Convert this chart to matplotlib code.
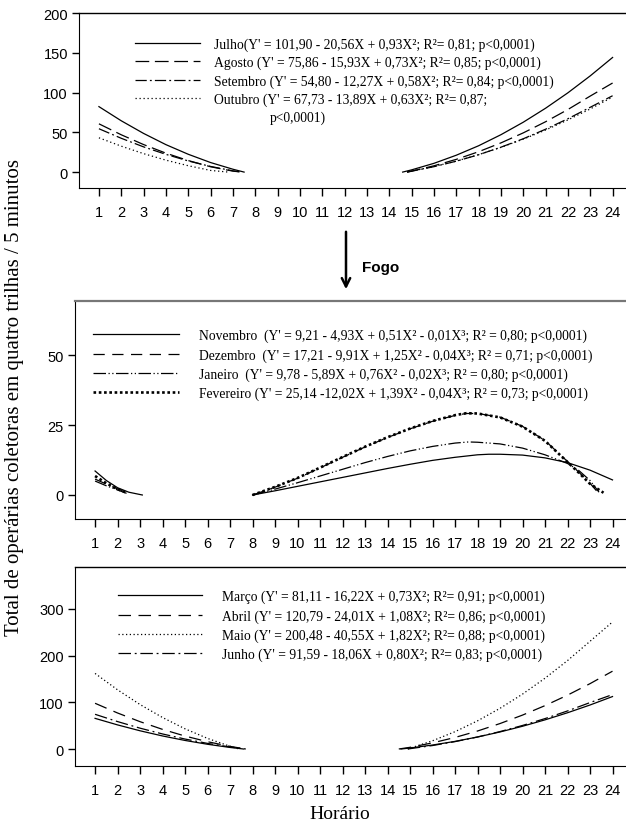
import matplotlib.pyplot as plt

plt.rcParams['font.family'] = 'Liberation Sans'

horas = list(range(1, 25))

# ---- painel de cima: julho a outubro (manha / tarde) ----
x_jul_m = [1, 2, 3, 4, 5, 6, 7, 7.5]
julho_m = [82.3, 64.5, 48.6, 34.5, 22.4, 12.0, 3.6, 0]
x_jul_t = [14.6, 15, 16, 17, 18, 19, 20, 21, 22, 23, 24]
julho_t = [0, 2.8, 11.0, 21.2, 33.1, 47.0, 62.7, 80.3, 99.7, 121.0, 144.1]

x_ago_m = [1, 2, 3, 4, 5, 6, 7, 7.4]
agosto_m = [60.7, 46.9, 34.6, 23.8, 14.5, 6.7, 1.2, 0]
x_ago_t = [14.8, 15, 16, 17, 18, 19, 20, 21, 22, 23, 24]
agosto_t = [0, 1.2, 7.9, 16.0, 25.6, 36.7, 49.3, 63.3, 78.7, 95.6, 112.0]

x_set_m = [1, 2, 3, 4, 5, 6, 7, 7.4]
setembro_m = [54.5, 42.5, 31.7, 22.3, 14.0, 7.1, 1.6, 0]
x_set_t = [14.8, 15, 16, 17, 18, 19, 20, 21, 22, 23, 24]
setembro_t = [0, 1.1, 6.8, 13.7, 21.8, 31.3, 41.9, 53.9, 67.1, 81.5, 96.0]

x_out_m = [1, 2, 3, 4, 5, 6, 6.8]
outubro_m = [43.1, 32.6, 23.2, 15.0, 8.0, 2.1, 0]
x_out_t = [14.8, 15, 16, 17, 18, 19, 20, 21, 22, 23, 24]
outubro_t = [0, 1.2, 7.0, 13.8, 21.9, 31.1, 41.4, 52.9, 65.6, 79.4, 94.4]

# ---- painel do meio: novembro a fevereiro ----
x_nov_m = [1, 1.5, 2, 2.5, 3.1]
novembro_m = [8.6, 5.2, 2.6, 1.0, 0]
x_nov_t = [8, 9, 10, 11, 12, 13, 14, 15, 16, 17, 18, 18.5, 19, 20, 21, 22, 23, 24]
novembro_t = [0, 1.5, 3.1, 4.7, 6.3, 7.9, 9.5, 11.0, 12.4, 13.5, 14.4, 14.6, 14.6, 14.3,
              13.3, 11.6, 8.9, 5.4]

x_dez_m = [1, 1.5, 2, 2.4]
dezembro_m = [5.7, 3.9, 2.2, 1.0]
x_dez_t = [8, 9, 10, 11, 12, 13, 14, 15, 16, 17, 17.5, 18, 19, 20, 21, 22, 22.5, 23, 23.3]
dezembro_t = [0, 2.8, 6.0, 9.7, 13.5, 17.2, 20.6, 23.7, 26.4, 28.5, 29.2, 29.2, 27.9, 24.6,
              19.5, 12.0, 8.2, 4.2, 1.4]

x_jan_m = [1, 1.5, 2, 2.4]
janeiro_m = [5.0, 3.3, 1.8, 0.6]
x_jan_t = [8, 9, 10, 11, 12, 13, 14, 15, 16, 17, 17.6, 18, 19, 20, 21, 22, 22.5, 23, 23.4]
janeiro_t = [0, 2.1, 4.4, 6.8, 9.2, 11.6, 13.8, 15.8, 17.4, 18.6, 19.0, 18.9, 18.3, 16.8,
             14.4, 11.3, 8.8, 5.2, 1.0]

x_fev_m = [1, 1.5, 2, 2.4]
fevereiro_m = [6.8, 4.2, 2.1, 0.8]
x_fev_t = [8, 9, 10, 11, 12, 13, 14, 15, 16, 17, 17.5, 18, 19, 20, 21, 22, 22.5, 23, 23.6]
fevereiro_t = [0, 2.9, 6.1, 9.8, 13.6, 17.3, 20.7, 23.8, 26.5, 28.6, 29.3, 29.2, 27.8, 24.5,
               19.4, 11.8, 8.0, 4.0, 0.8]

# ---- painel de baixo: marco a junho ----
x_mar_m = [1, 2, 3, 4, 5, 6, 7, 7.6]
marco_m = [65.6, 51.6, 39.0, 27.9, 18.3, 10.1, 3.3, 0]
x_mar_t = [14.6, 15, 16, 17, 18, 19, 20, 21, 22, 23, 24]
marco_t = [0, 2.1, 8.5, 16.3, 25.7, 36.5, 48.7, 62.4, 77.6, 94.2, 112.3]

x_abr_m = [1, 2, 3, 4, 5, 6, 7, 7.7]
abril_m = [97.9, 77.1, 58.5, 42.0, 27.7, 15.6, 5.6, 0]
x_abr_t = [14.5, 15, 16, 17, 18, 19, 20, 21, 22, 23, 24]
abril_t = [0, 3.6, 13.1, 24.7, 38.5, 54.5, 72.6, 92.9, 115.3, 139.9, 166.6]

x_mai_m = [1, 2, 3, 4, 5, 6, 7, 7.4]
maio_m = [161.8, 126.7, 95.2, 67.4, 43.2, 22.7, 5.8, 0]
x_mai_t = [14.9, 15, 16, 17, 18, 19, 20, 21, 22, 23, 24]
maio_t = [0, 1.7, 17.6, 37.1, 60.3, 87.1, 117.5, 151.6, 189.3, 230.6, 272.0]

x_jun_m = [1, 2, 3, 4, 5, 6, 7, 7.7]
junho_m = [74.3, 58.7, 44.6, 32.2, 21.3, 12.0, 4.4, 0]
x_jun_t = [14.9, 15, 16, 17, 18, 19, 20, 21, 22, 23, 24]
junho_t = [0, 0.7, 7.4, 15.8, 25.7, 37.3, 50.4, 65.1, 81.5, 99.4, 116.5]

rotulos_topo = [
    "Julho(Y' = 101,90 - 20,56X + 0,93X²; R²= 0,81; p<0,0001)",
    "Agosto (Y' = 75,86 - 15,93X + 0,73X²; R²= 0,85; p<0,0001)",
    "Setembro (Y' = 54,80 - 12,27X + 0,58X²; R²= 0,84; p<0,0001)",
    "Outubro (Y' = 67,73 - 13,89X + 0,63X²; R²= 0,87;",
]
rotulos_meio = [
    "Novembro  (Y' = 9,21 - 4,93X + 0,51X² - 0,01X³; R² = 0,80; p<0,0001)",
    "Dezembro  (Y' = 17,21 - 9,91X + 1,25X² - 0,04X³; R² = 0,71; p<0,0001)",
    "Janeiro  (Y' = 9,78 - 5,89X + 0,76X² - 0,02X³; R² = 0,80; p<0,0001)",
    "Fevereiro (Y' = 25,14 -12,02X + 1,39X² - 0,04X³; R² = 0,73; p<0,0001)",
]
rotulos_baixo = [
    "Março (Y' = 81,11 - 16,22X + 0,73X²; R²= 0,91; p<0,0001)",
    "Abril (Y' = 120,79 - 24,01X + 1,08X²; R²= 0,86; p<0,0001)",
    "Maio (Y' = 200,48 - 40,55X + 1,82X²; R²= 0,88; p<0,0001)",
    "Junho (Y' = 91,59 - 18,06X + 0,80X²; R²= 0,83; p<0,0001)",
]

LW = 0.9
SERIF = 'Liberation Serif'
FS_LEG = 9.8


def curva(ax, xm, ym, xt, yt, label, **kw):
    ln, = ax.plot(xm, ym, color='black', label=label, **kw)
    ax.plot(xt, yt, color='black', **kw)
    return ln


def arruma_eixo(ax, ylim, yticks, cor_topo='black', lw_topo=1.0):
    ax.set_xlim(0.108, 24.6)
    ax.set_ylim(*ylim)
    ax.set_xticks(horas)
    ax.set_xticklabels([str(h) for h in horas])
    ax.set_yticks(yticks)
    ax.spines['right'].set_visible(False)
    ax.spines['top'].set_color(cor_topo)
    ax.spines['top'].set_linewidth(lw_topo)
    ax.tick_params(axis='x', direction='out', length=6, width=1, labelsize=10.5, pad=6)
    ax.tick_params(axis='y', direction='out', length=5, width=1, labelsize=10.5, pad=3)


def legenda(ax, handles, labels, anchor, hlen, hpad, spacing):
    ax.legend(handles, labels, loc='upper left', bbox_to_anchor=anchor, frameon=False,
              prop={'family': SERIF, 'size': FS_LEG}, handlelength=hlen,
              handletextpad=hpad, labelspacing=spacing, borderpad=0, borderaxespad=0)


fig = plt.figure(figsize=(6.26, 8.28), dpi=100)
W, H = 626, 828


def eixo(left, top, bottom):
    return fig.add_axes([left / W, 1 - bottom / H, (W - left) / W, (bottom - top) / H])


# painel de cima
ax1 = eixo(79, 14, 189)
h1 = [
    curva(ax1, x_jul_m, julho_m, x_jul_t, julho_t, rotulos_topo[0], lw=LW),
    curva(ax1, x_ago_m, agosto_m, x_ago_t, agosto_t, rotulos_topo[1], lw=LW,
          dashes=(11, 4.5)),
    curva(ax1, x_set_m, setembro_m, x_set_t, setembro_t, rotulos_topo[2], lw=LW,
          dashes=(9, 2.5, 1.5, 2.5)),
    curva(ax1, x_out_m, outubro_m, x_out_t, outubro_t, rotulos_topo[3], lw=LW,
          dashes=(1, 2.2)),
]
arruma_eixo(ax1, (-20, 200), [0, 50, 100, 150, 200])
legenda(ax1, h1, rotulos_topo, (0.102, 0.86), 4.8, 1.05, 0.36)
ax1.text(0.349, 0.405, "p<0,0001)", transform=ax1.transAxes, family=SERIF, size=FS_LEG,
         va='center')

# painel do meio
ax2 = eixo(75, 302, 520)
h2 = [
    curva(ax2, x_nov_m, novembro_m, x_nov_t, novembro_t, rotulos_meio[0], lw=LW),
    curva(ax2, x_dez_m, dezembro_m, x_dez_t, dezembro_t, rotulos_meio[1], lw=LW,
          dashes=(9, 6)),
    curva(ax2, x_jan_m, janeiro_m, x_jan_t, janeiro_t, rotulos_meio[2], lw=LW,
          dashes=(10, 2, 1, 2, 1, 2)),
    curva(ax2, x_fev_m, fevereiro_m, x_fev_t, fevereiro_t, rotulos_meio[3], lw=1.9,
          dashes=(1, 1)),
]
arruma_eixo(ax2, (-8.6, 69.5), [0, 25, 50], cor_topo='#777777', lw_topo=1.6)
legenda(ax2, h2, rotulos_meio, (0.033, 0.872), 6.3, 1.45, 0.43)

# painel de baixo
ax3 = eixo(75, 568, 767)
h3 = [
    curva(ax3, x_mar_m, marco_m, x_mar_t, marco_t, rotulos_baixo[0], lw=LW),
    curva(ax3, x_abr_m, abril_m, x_abr_t, abril_t, rotulos_baixo[1], lw=LW,
          dashes=(10, 6)),
    curva(ax3, x_mai_m, maio_m, x_mai_t, maio_t, rotulos_baixo[2], lw=LW,
          dashes=(1, 2)),
    curva(ax3, x_jun_m, junho_m, x_jun_t, junho_t, rotulos_baixo[3], lw=LW,
          dashes=(10, 3, 1.5, 3)),
]
arruma_eixo(ax3, (-36.4, 389.7), [0, 100, 200, 300])
legenda(ax3, h3, rotulos_baixo, (0.078, 0.885), 6.2, 1.45, 0.42)

# seta do fogo
fig.add_artist(plt.matplotlib.patches.FancyArrowPatch(
    (346 / W, 1 - 230 / H), (346 / W, 1 - 293 / H), transform=fig.transFigure,
    arrowstyle='->,head_length=6,head_width=3', lw=1.8, color='black'))
fig.text(362 / W, 1 - 268 / H, "Fogo", weight='bold', size=11, va='center')

fig.text(15 / W, 1 - 397 / H,
         "Total de operárias coletoras em quatro trilhas / 5 minutos",
         rotation=90, family=SERIF, size=15, ha='center', va='center')
fig.text(340 / W, 1 - 815 / H, "Horário", family=SERIF, size=14,
         ha='center', va='center')

fig.savefig('out.png', dpi=100)
